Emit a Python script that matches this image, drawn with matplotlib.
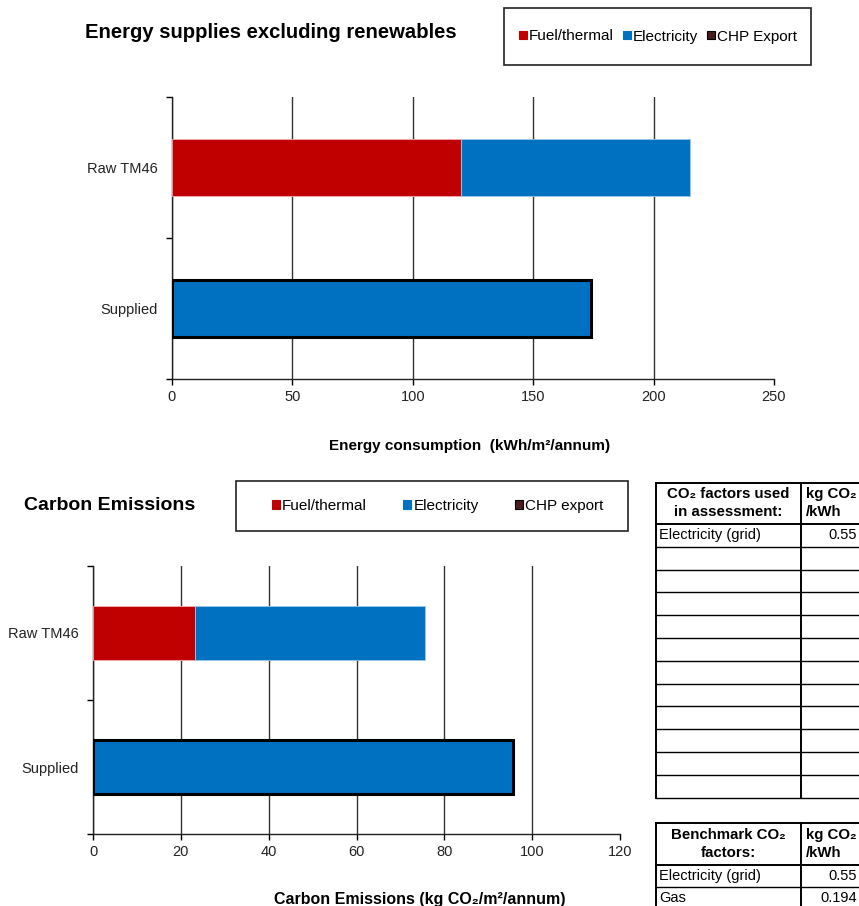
import numpy as np
import matplotlib.pyplot as plt
from matplotlib.patches import Rectangle
from matplotlib.lines import Line2D

plt.rcParams['font.family'] = ['Liberation Sans', 'DejaVu Sans']

# Data
categories = ['Raw TM46', 'Supplied']
energy_fuel = [120, 0]
energy_elec = [95, 174]
energy_chp = [0, 0]
carbon_fuel = [23.3, 0]
carbon_elec = [52.3, 95.7]
carbon_chp = [0, 0]

energy_ticks = [0, 50, 100, 150, 200, 250]
carbon_ticks = [0, 20, 40, 60, 80, 100, 120]

assess_rows = [('Electricity (grid)', '0.55')] + [('', '')] * 11
bench_rows = [('Electricity (grid)', '0.55'), ('Gas', '0.194')]

RED = '#C00000'
BLUE = '#0070C0'
CHP = '#4A1C1C'

W, H = 859, 906
fig = plt.figure(figsize=(W / 100, H / 100), dpi=100)


def fx(px):
    return px / W


def fy(py):
    return 1 - py / H


def px_axes(x0, y0, x1, y1):
    return fig.add_axes([fx(x0), fy(y1), fx(x1 - x0), (y1 - y0) / H])


def stacked(ax, fuel, elec, chp, ticks):
    y = np.array([1, 0])
    fuel = np.array(fuel, float)
    elec = np.array(elec, float)
    chp = np.array(chp, float)
    lw = [0.6, 2.2]
    ax.barh(y, fuel, height=0.4, color=RED, edgecolor=['#f0b0b0', 'black'],
            linewidth=lw, zorder=3)
    ax.barh(y, elec, left=fuel, height=0.4, color=BLUE,
            edgecolor=['#9cc8ec', 'black'], linewidth=lw, zorder=3)
    ax.barh(y, chp, left=fuel + elec, height=0.4, color=CHP, edgecolor='black',
            linewidth=0, zorder=3)
    ax.set_ylim(-0.5, 1.5)
    ax.set_xlim(ticks[0], ticks[-1])
    ax.set_xticks(ticks)
    ax.set_yticks(y)
    ax.set_yticklabels(categories)
    ax.set_yticks([-0.5, 0.5, 1.5], minor=True)
    ax.tick_params(axis='y', which='major', length=0, pad=10, labelsize=10.5)
    ax.tick_params(axis='y', which='minor', length=4, width=1)
    ax.tick_params(axis='x', length=4, width=1, labelsize=10.5, pad=4)
    for t in ax.get_xticklabels() + ax.get_yticklabels():
        t.set_color('#222222')
    ax.grid(axis='x', color='#333333', linewidth=1, zorder=0)
    # no gridline at the right end of the scale
    ax.get_xgridlines()[-1].set_visible(False)
    for s in ('top', 'right'):
        ax.spines[s].set_visible(False)
    for s in ('left', 'bottom'):
        ax.spines[s].set_linewidth(1)
        ax.spines[s].set_color('#222222')


def legend_box(x0, y0, x1, y1, labels, text_x, spacing):
    fig.patches.append(Rectangle((fx(x0), fy(y1)), fx(x1 - x0), (y1 - y0) / H,
                                 transform=fig.transFigure, fill=False,
                                 edgecolor='#222222', linewidth=1.2))
    handles = [Rectangle((0, 0), 1, 1, facecolor=c, edgecolor=e, linewidth=0.8)
               for c, e in ((RED, RED), (BLUE, BLUE), (CHP, 'black'))]
    fig.legend(handles, labels, loc='center left',
               bbox_to_anchor=(fx(text_x), fy((y0 + y1) / 2)),
               ncol=3, frameon=False, fontsize=11, handlelength=0.5,
               handleheight=0.5, handletextpad=0.15, columnspacing=spacing,
               borderpad=0, borderaxespad=0)


# Top chart: energy supplies
ax1 = px_axes(172, 97, 774, 379)
stacked(ax1, energy_fuel, energy_elec, energy_chp, energy_ticks)
fig.text(fx(85), fy(33), 'Energy supplies excluding renewables', fontsize=14.6,
         fontweight='bold', va='center', ha='left')
fig.text(fx(470), fy(446), 'Energy consumption  (kWh/m\u00b2/annum)', fontsize=11,
         fontweight='bold', va='center', ha='center')
legend_box(504, 8, 811, 65, ['Fuel/thermal', 'Electricity', 'CHP Export'], 519, 0.6)

# Bottom chart: carbon emissions
ax2 = px_axes(93, 566, 620, 834)
stacked(ax2, carbon_fuel, carbon_elec, carbon_chp, carbon_ticks)
fig.text(fx(24), fy(506), 'Carbon Emissions', fontsize=14,
         fontweight='bold', va='center', ha='left')
fig.text(fx(420), fy(904), 'Carbon Emissions (kg CO\u2082/m\u00b2/annum)', fontsize=11.5,
         fontweight='bold', va='baseline', ha='center')
legend_box(236, 481, 628, 531, ['Fuel/thermal', 'Electricity', 'CHP export'], 272, 2.4)


# CO2 factor tables
def hline(x0, x1, y, lw=1.0):
    fig.add_artist(Line2D([fx(x0), fx(x1)], [fy(y), fy(y)], color='black',
                          linewidth=lw, transform=fig.transFigure))


def vline(x, y0, y1, lw=1.0):
    fig.add_artist(Line2D([fx(x), fx(x)], [fy(y0), fy(y1)], color='black',
                          linewidth=lw, transform=fig.transFigure))


def table(top, header_bottom, row_h, header, rows, bottom):
    x0, xm, x1 = 656, 801, 900
    hline(x0, x1, top, 1.4)
    hline(x0, x1, header_bottom, 1.4)
    for i in range(1, len(rows) + 1):
        yy = header_bottom + i * row_h
        if yy < H + 5:
            hline(x0, x1, yy, 1.4 if yy == bottom else 1.0)
    vline(x0, top, bottom, 1.4)
    vline(xm, top, bottom, 1.4)
    hy = (top + header_bottom) / 2
    fig.text(fx((x0 + xm) / 2), fy(hy - 9), header[0], fontsize=10.8,
             fontweight='bold', ha='center', va='center')
    fig.text(fx((x0 + xm) / 2), fy(hy + 9), header[1], fontsize=10.8,
             fontweight='bold', ha='center', va='center')
    fig.text(fx(806), fy(hy - 9), 'kg CO\u2082', fontsize=10.8, fontweight='bold',
             ha='left', va='center')
    fig.text(fx(806), fy(hy + 9), '/kWh', fontsize=10.8, fontweight='bold',
             ha='left', va='center')
    for i, (name, val) in enumerate(rows):
        cy = header_bottom + (i + 0.5) * row_h
        if name:
            fig.text(fx(659), fy(cy), name, fontsize=10.5, ha='left', va='center')
        if val:
            fig.text(fx(857), fy(cy), val, fontsize=10.5, ha='right', va='center')


table(483, 524, 22.8, ('CO\u2082 factors used', 'in assessment:'), assess_rows, 798)
table(823, 865, 22, ('Benchmark CO\u2082', 'factors:'), bench_rows, 960)

fig.savefig('out.png', dpi=100)
